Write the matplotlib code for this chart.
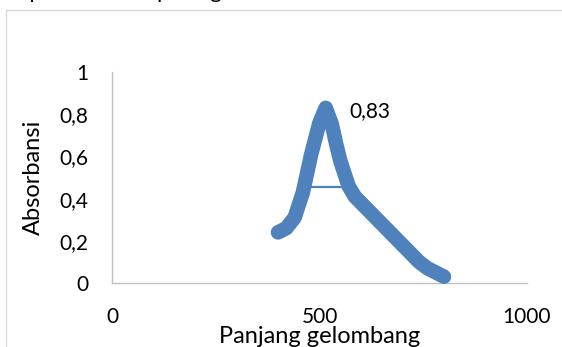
import matplotlib
matplotlib.use("Agg")
import matplotlib.pyplot as plt
from matplotlib.patches import Rectangle

# spectrum
wavelength = [400, 420, 440, 460, 480, 500, 515, 530, 540, 550, 560, 570, 585,
              600, 620, 640, 660, 680, 700, 720, 740, 760, 780, 800]
absorbance = [0.24, 0.26, 0.31, 0.43, 0.61, 0.76, 0.83, 0.75, 0.66, 0.58, 0.52,
              0.46, 0.41, 0.38, 0.34, 0.30, 0.26, 0.22, 0.18, 0.14, 0.10, 0.07,
              0.05, 0.03]
# thin horizontal bar across the peak
bar_x = [470, 573]
bar_y = [0.455, 0.455]
peak_x, peak_y = 515, 0.83

x_ticks = [0, 500, 1000]
y_ticks = [0, 0.2, 0.4, 0.6, 0.8, 1]
y_labels = ["0", "0,2", "0,4", "0,6", "0,8", "1"]

blue = "#4F81BD"
grey = "#BFBFBF"
plt.rcParams['font.family'] = ['Lato', 'DejaVu Sans']

fig = plt.figure(figsize=(5.62, 3.47), dpi=100)
W, H = 562, 347

# chart frame and the caption line cut off above it
fig.patches.append(Rectangle((6 / W, -0.1), 1.2, 1.1 - 10 / H, transform=fig.transFigure,
                             fill=False, edgecolor="#D9D9D9", linewidth=1))
fig.text(8 / W, 1 + 1.5 / H, "seperti terlihat pada gambar", fontsize=16,
         va="baseline", ha="left", color="black")

ax = fig.add_axes([112 / W, 1 - 283 / H, (527 - 112) / W, (283 - 72) / H])
ax.plot(wavelength, absorbance, color=blue, linewidth=10.5,
        solid_capstyle="round", solid_joinstyle="round", clip_on=False, zorder=3)
ax.plot(bar_x, bar_y, color=blue, linewidth=1.6, zorder=2)
ax.annotate("0,83", (peak_x, peak_y), xytext=(17, -2), textcoords="offset points",
            fontsize=15, va="center", ha="left")

ax.set_xlim(0, 1000)
ax.set_ylim(0, 1)
ax.set_xticks(x_ticks)
ax.set_xticklabels([str(t) for t in x_ticks])
ax.set_yticks(y_ticks)
ax.set_yticklabels(y_labels)
ax.tick_params(axis="both", length=0, labelsize=15)
ax.tick_params(axis="x", pad=17)
ax.tick_params(axis="y", pad=17)

for s in ["top", "right"]:
    ax.spines[s].set_visible(False)
for s in ["left", "bottom"]:
    ax.spines[s].set_color(grey)
    ax.spines[s].set_linewidth(1)

ax.set_xlabel("Panjang gelombang", fontsize=17)
ax.xaxis.set_label_coords(0.5, -0.255)
ax.xaxis.label.set_va("center")
ax.set_ylabel("Absorbansi", fontsize=17)
ax.yaxis.set_label_coords(-0.19, 0.5)
ax.yaxis.label.set_va("center")

fig.savefig("out.png", dpi=100)
